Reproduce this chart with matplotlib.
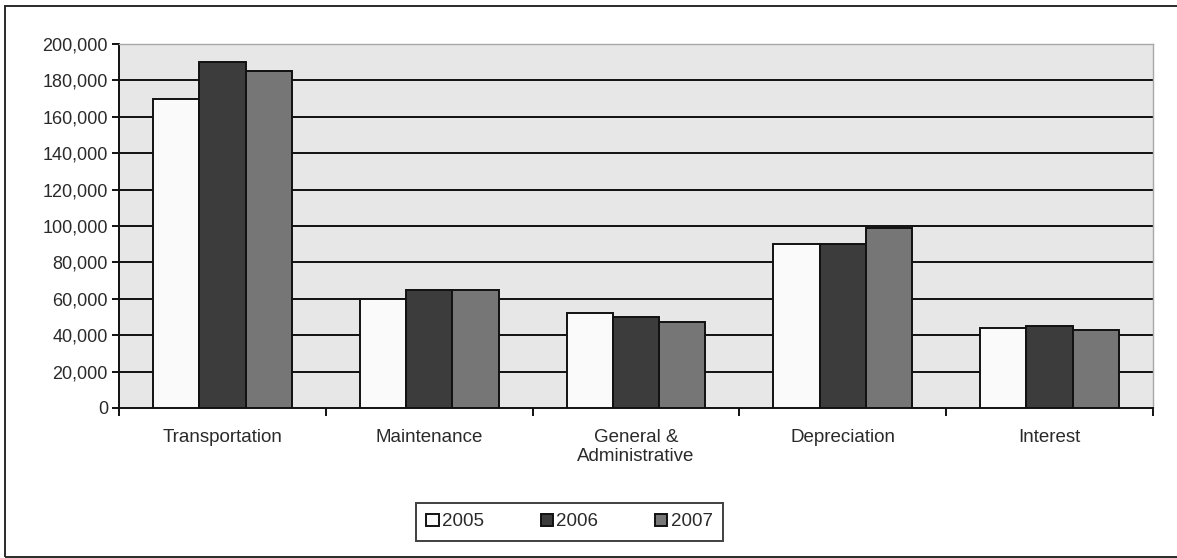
import matplotlib
matplotlib.use("Agg")
import matplotlib.pyplot as plt
import numpy as np
from matplotlib.patches import Rectangle
from matplotlib.ticker import FuncFormatter, FixedLocator

categories = ["Transportation", "Maintenance", "General &\nAdministrative",
              "Depreciation", "Interest"]
years = ["2005", "2006", "2007"]
values_2005 = [170000, 60000, 52000, 90000, 44000]
values_2006 = [190000, 65000, 50000, 90000, 45000]
values_2007 = [185000, 65000, 47500, 99000, 43000]
y_ticks = [0, 20000, 40000, 60000, 80000, 100000, 120000, 140000, 160000,
           180000, 200000]

series = [values_2005, values_2006, values_2007]
fills = ["#fafafa", "#3c3c3c", "#767676"]

plt.rcParams["font.family"] = ["Liberation Sans", "DejaVu Sans"]

fig = plt.figure(figsize=(11.77, 5.58), dpi=100)
fig.patch.set_facecolor("white")

# outer chart frame
fig.patches.append(Rectangle((5 / 1177, 1 / 558), 1.2, (551) / 558,
                             transform=fig.transFigure, fill=False,
                             edgecolor="#2a2a2a", linewidth=1.4))

ax = fig.add_axes([119 / 1177, 1 - 408 / 558, (1153 - 119) / 1177, (408 - 44) / 558])
ax.set_facecolor("#e7e7e7")

x = np.arange(len(categories))
width = 0.224
for i, (vals, col, yr) in enumerate(zip(series, fills, years)):
    ax.bar(x + (i - 1) * width, vals, width, color=col, edgecolor="#111111",
           linewidth=1.4, label=yr, zorder=3)

ax.set_xlim(-0.5, len(categories) - 0.5)
ax.set_ylim(0, 200000)
ax.yaxis.set_major_locator(FixedLocator(y_ticks))
ax.yaxis.set_major_formatter(FuncFormatter(lambda v, p: f"{int(v):,}"))
ax.tick_params(axis="y", direction="out", length=5, width=1.4, color="#111111",
               labelsize=13, labelcolor="#2a2a2a", pad=3)

ax.set_xticks(x)
ax.set_xticklabels(categories, fontsize=13.5, color="#2a2a2a", linespacing=1.2)
ax.tick_params(axis="x", which="major", length=0, pad=15)
ax.set_xticks(np.arange(-0.5, len(categories)), minor=True)
ax.tick_params(axis="x", which="minor", direction="out", length=6, width=1.4,
               color="#111111")

ax.yaxis.grid(True, color="#111111", linewidth=1.4, zorder=1)
ax.set_axisbelow(True)
ax.get_ygridlines()[-1].set_visible(False)
ax.get_ygridlines()[0].set_visible(False)

for side in ("left", "bottom"):
    ax.spines[side].set_color("#111111")
    ax.spines[side].set_linewidth(1.4)
for side in ("top", "right"):
    ax.spines[side].set_color("#a8a8a8")
    ax.spines[side].set_linewidth(1.0)

leg = fig.legend(loc="center", bbox_to_anchor=((414 + 725) / 2 / 1177, 1 - 522 / 558),
                 ncol=3, frameon=True, fancybox=False, fontsize=13.5,
                 handlelength=0.65, handleheight=0.65, handletextpad=0.2,
                 columnspacing=3.0, borderpad=0.55, borderaxespad=0)
leg.get_frame().set_edgecolor("#111111")
leg.get_frame().set_linewidth(1.4)
for t in leg.get_texts():
    t.set_color("#2a2a2a")

fig.savefig("out.png", dpi=100)
